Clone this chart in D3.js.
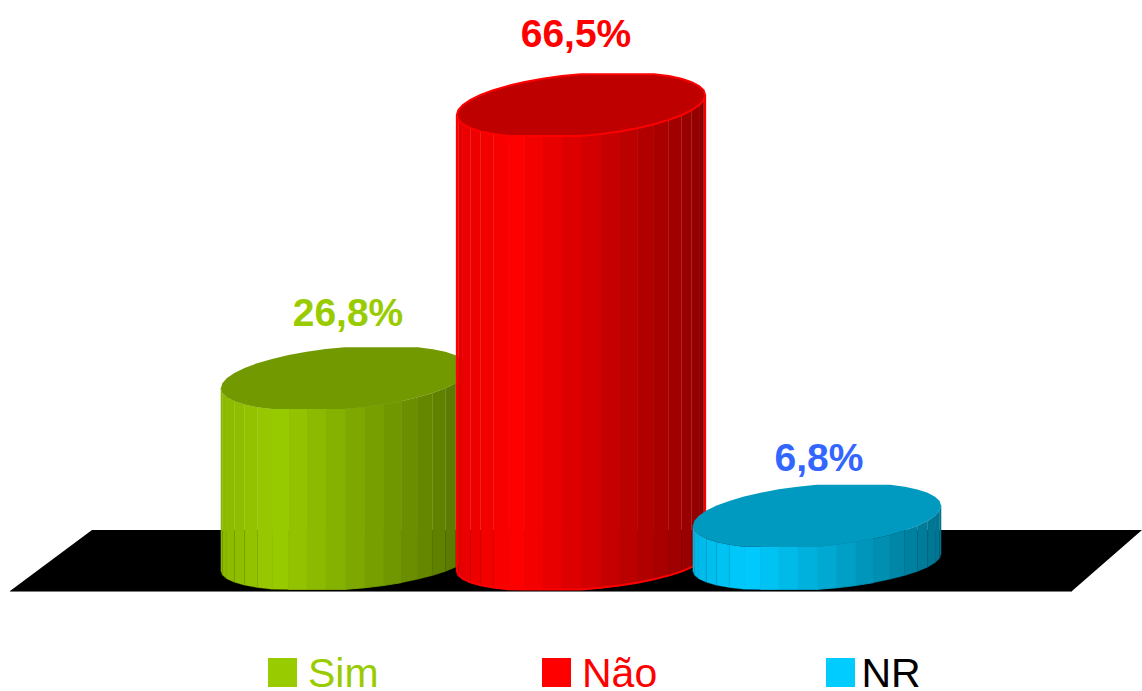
<!DOCTYPE html>
<html>
<head>
<meta charset="utf-8">
<script src="https://cdn.jsdelivr.net/npm/d3@7"></script>
<style>
  html, body { margin: 0; padding: 0; background: #fff; }
  svg { display: block; }
  text { font-family: "Liberation Sans", Arial, sans-serif; }
</style>
</head>
<body>
<script>
const categories = ['Sim', 'Não', 'NR']
const values = [26.8, 66.5, 6.8]
const labels = ['26,8%', '66,5%', '6,8%']
const fills = ['#99cc00', '#ff0000', '#00ccff']
const labelColors = ['#99cc00', '#ff0000', '#3366ff']
const legendColors = ['#99cc00', '#ff0000', '#000000']
const outlines = ['none', '#ff0000', 'none']

const width = 1142
const height = 691

let svg = d3.select('body').append('svg')
    .attr('width', width)
    .attr('height', height)

// floor
svg.append('path')
    .attr('d', 'M92,530 L1142,530 L1072,591 L10,591 Z')
    .attr('fill', '#000')
svg.append('line')
    .attr('x1', 10).attr('x2', 1072)
    .attr('y1', 591.5).attr('y2', 591.5)
    .attr('stroke', '#777')

let xScale = d3.scaleBand()
    .domain(categories)
    .range([227, 935])

let yScale = d3.scaleLinear()
    .domain([0, 70])
    .range([562.5, 81])

let labelY = d3.scaleLinear()
    .domain([6.8, 26.8, 66.5])
    .range([471, 325.5, 46.5])

let shade = d3.scaleLinear()
    .domain([-1, -0.55, 1])
    .range([0.9, 1, 0.56])

const rx = xScale.bandwidth() * 0.526
const facets = 40
const step = 2 * Math.PI / facets

// one point of a faceted ring, tilted so the right side sits higher
const ringPoint = (cx, cy, ry, tilt, t) => {
    let limit = Math.hypot(ry, tilt) * 0.95
    let dy = ry * Math.sin(t) + tilt * Math.cos(t)
    return [cx + rx * Math.cos(t), cy + Math.max(-limit, Math.min(limit, dy))]
}

categories.forEach((cat, i) => {
    let cx = xScale(cat) + xScale.bandwidth() / 2
    let topY = yScale(values[i])
    let baseY = yScale(0)
    let g = svg.append('g').attr('class', 'column')

    let top = t => ringPoint(cx, topY, 31, -10, t)
    let base = t => ringPoint(cx, baseY, 27, -8.5, t)
    let stripColor = t => d3.interpolateRgb('#000', fills[i])(shade(Math.cos(t + step / 2)))

    // front side strips, seams fade towards the middle
    let strips = d3.range(facets / 2).map(k => k * step)
    g.selectAll('path.strip')
        .data(strips)
        .enter()
        .append('path')
        .attr('class', 'strip')
        .attr('d', t => 'M' + [top(t), top(t + step), base(t + step), base(t)].join('L') + 'Z')
        .attr('fill', stripColor)
        .attr('stroke', stripColor)
        .attr('stroke-width', t => Math.abs(Math.cos(t + step / 2)) < 0.45 ? 0.9 : 0.25)

    // silhouette
    if (outlines[i] != 'none') {
        let edge = d3.range(facets / 2 + 1).map(k => base(k * step))
        g.append('path')
            .attr('d', 'M' + [top(0)].concat(edge, [top(Math.PI)]).join('L'))
            .attr('fill', 'none')
            .attr('stroke', outlines[i])
            .attr('stroke-width', 2)
    }

    // lid
    let ring = d3.range(facets).map(k => top(k * step))
    g.append('path')
        .attr('d', 'M' + ring.join('L') + 'Z')
        .attr('fill', d3.interpolateRgb('#000', fills[i])(0.75))
        .attr('stroke', outlines[i])
        .attr('stroke-width', 2)

    // value label
    svg.append('text')
        .attr('x', cx + [3, -5, 2][i])
        .attr('y', labelY(values[i]))
        .attr('text-anchor', 'middle')
        .attr('font-size', 39)
        .attr('font-weight', 'bold')
        .attr('fill', labelColors[i])
        .text(labels[i])
})

// labels stay above every column
svg.selectAll('text').raise()

// legend
let legendX = d3.scaleOrdinal().domain(categories).range([268, 542, 826])
let legend = svg.selectAll('g.legend')
    .data(categories)
    .enter()
    .append('g')
    .attr('class', 'legend')
    .attr('transform', d => 'translate(' + legendX(d) + ', 658)')

legend.append('rect')
    .attr('width', 29)
    .attr('height', 29)
    .attr('fill', (d, i) => fills[i])

legend.append('text')
    .attr('x', (d, i) => i == 2 ? 35.5 : 40)
    .attr('y', 29)
    .attr('font-size', 41)
    .attr('fill', (d, i) => legendColors[i])
    .text(d => d)
</script>
</body>
</html>
